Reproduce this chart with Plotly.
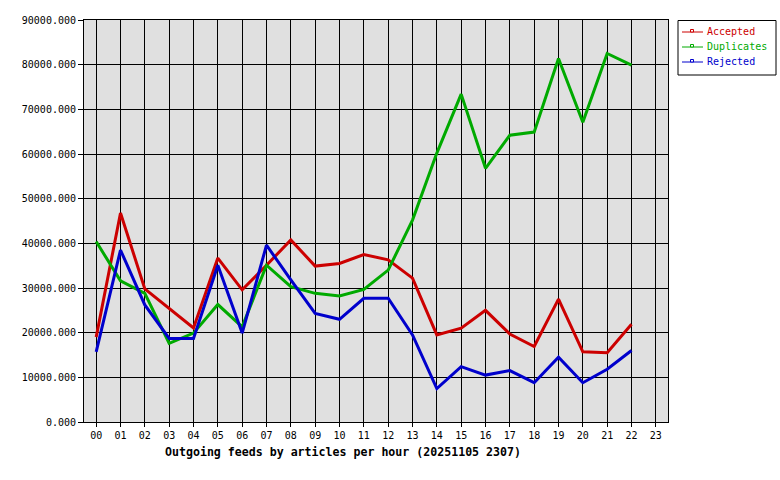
import plotly.graph_objects as go

hours = ["00","01","02","03","04","05","06","07","08","09","10","11",
         "12","13","14","15","16","17","18","19","20","21","22","23"]
hour_idx = list(range(23))  # data points 00..22

accepted = [19000, 46800, 29800, 25500, 21050, 36700, 29600, 35100, 40750, 34900,
            35500, 37500, 36300, 32200, 19500, 21000, 25000, 19700, 16900, 27500,
            15700, 15500, 21900]
duplicates = [40400, 31600, 28800, 17600, 19900, 26300, 21300, 35100, 30300, 28800,
              28200, 29700, 34000, 45200, 60200, 73400, 56800, 64200, 64900, 81400,
              67100, 82500, 79900]
rejected = [15700, 38500, 26200, 18700, 18700, 35100, 19900, 39600, 31800, 24300,
            23000, 27700, 27700, 19500, 7500, 12400, 10500, 11500, 8800, 14500,
            8800, 11800, 16000]

series = [("Accepted", accepted, "#cc0000"),
          ("Duplicates", duplicates, "#00aa00"),
          ("Rejected", rejected, "#0000cc")]

W, H = 780, 480
L, R, T, B = 84, 112, 20, 58
PW, PH = W - L - R, H - T - B


def px(x):
    return (x - L) / PW


def py(y):
    return (H - B - y) / PH


fig = go.Figure()
for name, vals, col in series:
    fig.add_trace(go.Scatter(x=hour_idx, y=vals, mode="lines", name=name,
                             line=dict(color=col, width=3), showlegend=False,
                             hoverinfo="skip"))

mono = "DejaVu Sans Mono"

# manual legend (box, line samples, small squares, coloured labels)
shapes = [dict(type="rect", xref="paper", yref="paper",
               x0=px(678), x1=px(776), y0=py(20.5), y1=py(75),
               line=dict(color="black", width=1), fillcolor="white", layer="above")]
annotations = []
for i, (name, vals, col) in enumerate(series):
    ly = 32 + 15 * i
    shapes.append(dict(type="line", xref="paper", yref="paper",
                       x0=px(682), x1=px(703), y0=py(ly), y1=py(ly),
                       line=dict(color=col, width=1), layer="above"))
    shapes.append(dict(type="rect", xref="paper", yref="paper",
                       x0=px(690.5), x1=px(693.5), y0=py(ly - 2.5), y1=py(ly),
                       line=dict(color=col, width=1), fillcolor="white", layer="above"))
    annotations.append(dict(text=name, xref="paper", yref="paper",
                            x=px(705), y=py(ly), xanchor="left", yanchor="middle",
                            showarrow=False,
                            font=dict(family=mono, size=10, color=col)))

annotations.append(dict(text="<b>Outgoing feeds by articles per hour (20251105 2307)</b>",
                        xref="paper", yref="paper", x=px(343), y=py(452),
                        xanchor="center", yanchor="middle", showarrow=False,
                        font=dict(family=mono, size=11.6, color="black")))

fig.update_layout(
    width=W, height=H,
    margin=dict(l=L, r=R, t=T, b=B),
    paper_bgcolor="white", plot_bgcolor="#e0e0e0",
    font=dict(family=mono, size=10, color="black"),
    showlegend=False,
    xaxis=dict(range=[-0.5, 23.5], tickmode="array",
               tickvals=list(range(24)), ticktext=hours,
               showgrid=True, gridcolor="black", gridwidth=1,
               showline=True, linecolor="black", linewidth=1, mirror=True,
               ticks="outside", ticklen=4, tickcolor="black", zeroline=False),
    yaxis=dict(range=[0, 90000], tickmode="array",
               tickvals=[i * 10000 for i in range(10)],
               ticktext=[f"{i * 10000:.3f}" for i in range(10)],
               showgrid=True, gridcolor="black", gridwidth=1,
               showline=True, linecolor="black", linewidth=1, mirror=True,
               ticks="outside", ticklen=5, tickcolor="black", zeroline=False),
    shapes=shapes,
    annotations=annotations,
)

fig.write_html("out.html", config={"displayModeBar": False},
               post_script="document.body.style.margin='0';")
